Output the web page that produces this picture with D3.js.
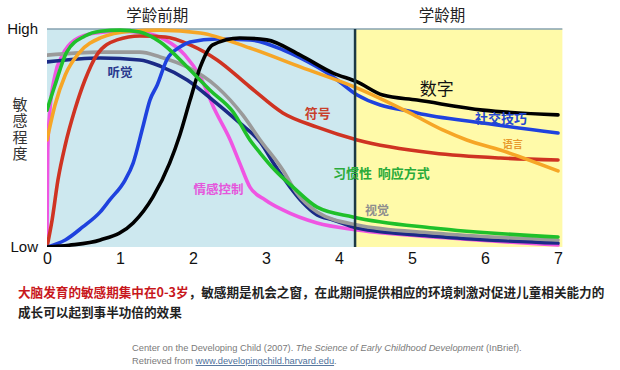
<!DOCTYPE html>
<html>
<head>
<meta charset="utf-8">
<script src="https://cdn.jsdelivr.net/npm/d3@7"></script>
<style>
  body { margin: 0; background: #fff; }
  svg { display: block; }
  text { font-family: "Noto Sans CJK SC", sans-serif; }
</style>
</head>
<body>
<div id="chart"></div>
<script>
// chart size
var width = 620;
var height = 370;

// age (years) on x, sensitivity 0..100 on y
var xTicks = [0, 1, 2, 3, 4, 5, 6, 7];
var yTickValues = [0, 100];
var yTickLabels = ["Low", "High"];
var yTitle = "敏感程度";
var schoolStart = 4.22;
var periodLabels = ["学龄前期", "学龄期"];
var periodCenters = [1.51, 5.41];

var listening = [[0, 84.9], [0.73, 86.7], [1.27, 85.8], [1.55, 83], [1.92, 76.6], [2.27, 67.4], [2.64, 56.9], [2.92, 48.2], [3.12, 37.6], [3.33, 27.5], [3.51, 20.2], [3.70, 14.7], [3.92, 12.4], [4.25, 8.7], [5.29, 5], [7, 1.8]];
var vision = [[0, 88], [0.73, 89.4], [1.27, 89.4], [1.55, 87.2], [1.92, 82.6], [2.33, 73.4], [2.68, 60.6], [2.92, 49.1], [3.23, 35.3], [3.42, 24.8], [3.70, 16.1], [4.25, 10.1], [5.29, 6.4], [7, 3.2]];
var emotion = [[0, 5.5], [0.01, 44.5], [0.04, 62.8], [0.11, 78.9], [0.21, 88], [0.38, 95], [0.66, 98.2], [1.0, 99], [1.34, 98.2], [1.62, 95], [1.89, 88], [2.10, 78], [2.30, 62.8], [2.51, 49.1], [2.64, 38.5], [2.78, 27.5], [2.99, 21.6], [3.23, 17], [3.70, 11], [4.25, 7.8], [5.52, 4.1], [7, 0.9]];
var symbols = [[0, 0], [0.07, 12.4], [0.15, 30.7], [0.25, 46.8], [0.38, 62.8], [0.52, 76.6], [0.68, 88], [0.96, 95], [1.27, 96.8], [1.62, 96.3], [1.96, 92.7], [2.33, 85.8], [2.78, 73.4], [3.23, 61.5], [3.70, 55], [4.25, 49.1], [5.29, 43.1], [6.21, 40.8], [7, 39.9]];
var social = [[0, 0], [0.25, 3.2], [0.49, 9.2], [0.73, 16.1], [0.86, 21.6], [1.07, 30.7], [1.18, 38.5], [1.32, 56], [1.41, 67.4], [1.51, 74.3], [1.64, 85.8], [1.82, 91.7], [1.96, 94], [2.33, 95.4], [2.78, 95], [3.23, 90.4], [3.47, 86.7], [3.92, 78], [4.25, 69.7], [5.07, 61.5], [5.97, 56.9], [7, 52.3]];
var language = [[0, 49.1], [0.11, 65.1], [0.25, 78.9], [0.45, 89.4], [0.73, 95.9], [1.14, 99], [1.55, 99.5], [2.10, 98.2], [2.78, 91.3], [3.47, 82.6], [4.25, 72.9], [4.97, 61.5], [5.42, 53.7], [5.75, 49.1], [6.21, 44.5], [7, 34.9]];
var numbers = [[0, 0], [0.3, 0.8], [0.73, 3.2], [1.18, 11], [1.45, 22.9], [1.68, 38.5], [1.82, 51.4], [1.96, 67.4], [2.10, 82.6], [2.27, 92.7], [2.64, 95.9], [3.01, 95], [3.47, 88], [3.92, 79.8], [4.25, 75.7], [4.60, 69.7], [5.07, 67.4], [5.97, 62.8], [7, 60.6]];
var habit = [[0, 62.8], [0.11, 74.3], [0.27, 89.4], [0.52, 96.8], [0.73, 99], [1.0, 99.5], [1.27, 98.6], [1.55, 94], [1.92, 82.6], [2.23, 72], [2.55, 61.9], [2.78, 49.1], [2.92, 43.1], [3.12, 35.3], [3.37, 27.5], [3.70, 18.3], [4.19, 13.8], [5.29, 8.7], [7, 4.6]];

var seriesNames = ["情感控制", "听觉", "视觉", "符号", "社交技巧", "语言", "数字", "习惯性  响应方式"];
var seriesData = [emotion, listening, vision, symbols, social, language, numbers, habit];
var seriesColors = ["#ef55e2", "#1b2a86", "#9a9a9a", "#cf3322", "#1f42de", "#f6a626", "#000000", "#1fc02a"];
var labelColors = ["#e557dc", "#2a3a8e", "#8e8e8e", "#c8402c", "#2448d0", "#e89a2e", "#111111", "#2aab3a"];
// label anchor positions in data units
var labelX = [2.35, 1.0, 4.52, 3.71, 6.22, 6.38, 5.34, 4.58];
var labelY = [26.1, 80.2, 16.5, 61.2, 59.0, 47.0, 72.5, 33.9];
var labelSize = [12.5, 12.5, 12, 13, 13, 10, 17, 13];

var x = d3.scaleLinear().domain([0, 7]).range([47, 558]);
var y = d3.scaleLinear().domain([0, 100]).range([247, 29]);

var svg = d3.select("#chart").append("svg")
	.attr("width", width)
	.attr("height", height);

// background panels
svg.append("rect")
	.attr("x", x(0)).attr("y", y(100))
	.attr("width", x(schoolStart) - x(0))
	.attr("height", y(0) - y(100))
	.style("fill", "#cde8ef");

svg.append("rect")
	.attr("x", x(schoolStart)).attr("y", y(100))
	.attr("width", x(7.06) - x(schoolStart))
	.attr("height", y(0) - y(100))
	.style("fill", "#fffaa9");

svg.append("line")
	.attr("x1", x(0)).attr("x2", x(7.06))
	.attr("y1", y(100)).attr("y2", y(100))
	.style("stroke", "#86a2b0")
	.style("stroke-width", 1.5);

svg.append("defs").append("clipPath")
	.attr("id", "plot-clip")
	.append("rect")
	.attr("x", x(0)).attr("y", y(100) - 1)
	.attr("width", x(7.06) - x(0))
	.attr("height", y(0) - y(100) + 1);

var line = d3.line()
	.x(function (d) { return x(d[0]); })
	.y(function (d) { return y(d[1]); })
	.curve(d3.curveMonotoneX);

svg.append("g")
	.attr("clip-path", "url(#plot-clip)")
	.selectAll("path")
	.data(seriesData)
	.enter()
	.append("path")
	.attr("d", line)
	.style("fill", "none")
	.style("stroke", function (d, i) { return seriesColors[i]; })
	.style("stroke-width", 3.6)
	.style("stroke-linecap", "round");

// school age divider
svg.append("line")
	.attr("x1", x(schoolStart)).attr("x2", x(schoolStart))
	.attr("y1", y(100)).attr("y2", y(0))
	.style("stroke", "#1c3844")
	.style("stroke-width", 2.5);

// curve labels
svg.append("g")
	.selectAll("text")
	.data(seriesNames)
	.enter()
	.append("text")
	.attr("x", function (d, i) { return x(labelX[i]); })
	.attr("y", function (d, i) { return y(labelY[i]); })
	.attr("text-anchor", "middle")
	.attr("dy", "0.35em")
	.style("font-size", function (d, i) { return labelSize[i] + "px"; })
	.style("font-weight", function (d, i) { return i == 6 ? "normal" : "bold"; })
	.style("fill", function (d, i) { return labelColors[i]; })
	.style("white-space", "pre")
	.text(function (d) { return d; });

// axes
var xAxis = svg.append("g")
	.attr("transform", "translate(0," + y(0) + ")")
	.call(d3.axisBottom(x).tickValues(xTicks).tickSize(0).tickPadding(6).tickFormat(d3.format("d")));
xAxis.select(".domain").remove();
xAxis.selectAll("text")
	.style("font-family", "'Liberation Sans', Arial, sans-serif")
	.style("font-size", "16px")
	.style("fill", "#111");

var yAxis = svg.append("g")
	.attr("transform", "translate(" + x(0) + ",0)")
	.call(d3.axisLeft(y).tickValues(yTickValues).tickSize(0).tickPadding(9)
		.tickFormat(function (d, i) { return yTickLabels[i]; }));
yAxis.select(".domain").remove();
yAxis.selectAll("text")
	.style("font-family", "'Liberation Sans', Arial, sans-serif")
	.style("font-size", "15px")
	.style("fill", "#111");

// y title, written top to bottom
svg.append("text")
	.attr("x", 20)
	.attr("y", 97)
	.style("writing-mode", "vertical-rl")
	.style("font-size", "15px")
	.style("letter-spacing", "1.3px")
	.style("fill", "#333")
	.text(yTitle);

// period headers
svg.append("g")
	.selectAll("text")
	.data(periodLabels)
	.enter()
	.append("text")
	.attr("x", function (d, i) { return x(periodCenters[i]); })
	.attr("y", 16)
	.attr("dy", "0.35em")
	.attr("text-anchor", "middle")
	.style("font-size", "15.5px")
	.style("fill", "#222")
	.text(function (d) { return d; });

// note below the chart
var note = svg.append("text")
	.attr("x", 18)
	.attr("y", 297)
	.style("font-size", "12.6px")
	.style("font-weight", "bold");
note.append("tspan").style("fill", "#c8171c").text("大脑发育的敏感期集中在0-3岁");
note.append("tspan").style("fill", "#222").text("，敏感期是机会之窗，在此期间提供相应的环境刺激对促进儿童相关能力的");

svg.append("text")
	.attr("x", 18)
	.attr("y", 317)
	.style("font-size", "12.6px")
	.style("font-weight", "bold")
	.style("fill", "#222")
	.text("成长可以起到事半功倍的效果");

// citation
var cite = svg.append("text")
	.attr("x", 132)
	.attr("y", 351)
	.style("font-family", "'Liberation Sans', Arial, sans-serif")
	.style("font-size", "9.3px")
	.style("fill", "#7a7a7a");
cite.append("tspan").text("Center on the Developing Child (2007). ");
cite.append("tspan").style("font-style", "italic").text("The Science of Early Childhood Development");
cite.append("tspan").text(" (InBrief).");

var cite2 = svg.append("text")
	.attr("x", 132)
	.attr("y", 364)
	.style("font-family", "'Liberation Sans', Arial, sans-serif")
	.style("font-size", "9.3px")
	.style("fill", "#7a7a7a");
cite2.append("tspan").text("Retrieved from ");
cite2.append("tspan").style("fill", "#4d6f9a").style("text-decoration", "underline").text("www.developingchild.harvard.edu");
cite2.append("tspan").text(".");
</script>
</body>
</html>
